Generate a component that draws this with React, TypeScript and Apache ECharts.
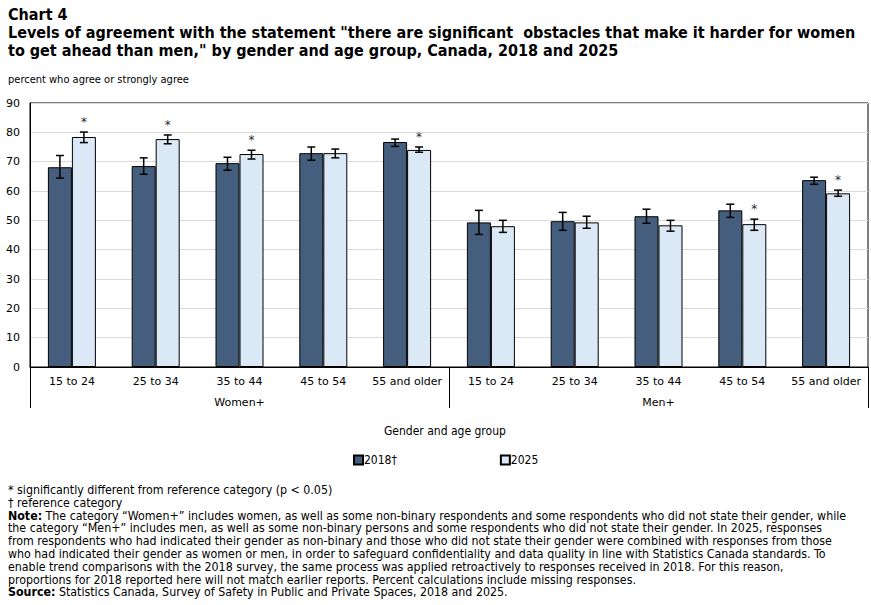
import React, { useEffect, useRef } from "react";
import * as echarts from "echarts";

const ageGroups = [
  "15 to 24", "25 to 34", "35 to 44", "45 to 54", "55 and older",
  "15 to 24", "25 to 34", "35 to 44", "45 to 54", "55 and older",
];
const genders = ["Women+", "Men+"];

const values2018 = [68.1, 68.5, 69.5, 72.9, 76.7, 49.3, 49.7, 51.4, 53.4, 63.7];
const low2018 = [64.4, 65.7, 67.1, 70.5, 75.2, 45.2, 46.6, 49.0, 51.0, 62.3];
const high2018 = [72.1, 71.3, 71.5, 75.0, 77.7, 53.4, 52.7, 53.8, 55.5, 64.7];

const values2025 = [78.4, 77.7, 72.6, 72.9, 74.0, 48.0, 49.3, 48.3, 48.7, 59.2];
const low2025 = [76.5, 76.1, 70.9, 71.3, 73.2, 45.9, 47.3, 46.3, 46.6, 58.2];
const high2025 = [80.1, 79.1, 73.9, 74.3, 75.0, 50.0, 51.4, 50.0, 50.4, 60.3];

// 1 = significantly different from the 2018 reference category
const significant2025 = [1, 1, 1, 0, 1, 0, 0, 0, 1, 1];
const significant2018 = [0, 0, 0, 0, 0, 0, 0, 0, 0, 0];

const seriesNames = ["2018\u2020", "2025"];
const colors = ["#455e7e", "#dbe8f6"];

const titleLines = [
  "Levels of agreement with the statement \"there are significant  obstacles that make it harder for women",
  "to get ahead than men,\" by gender and age group, Canada, 2018 and 2025",
];

const footLines = [
  "* significantly different from reference category (p < 0.05)",
  "\u2020 reference category",
  "{b|Note:} The category \u201cWomen+\u201d includes women, as well as some non-binary respondents and some respondents who did not state their gender, while",
  "the category \u201cMen+\u201d includes men, as well as some non-binary persons and some respondents who did not state their gender. In 2025, responses",
  "from respondents who had indicated their gender as non-binary and those who did not state their gender were combined with responses from those",
  "who had indicated their gender as women or men, in order to safeguard confidentiality and data quality in line with Statistics Canada standards. To",
  "enable trend comparisons with the 2018 survey, the same process was applied retroactively to responses received in 2018. For this reason,",
  "proportions for 2018 reported here will not match earlier reports. Percent calculations include missing responses.",
  "{b|Source:} Statistics Canada, Survey of Safety in Public and Private Spaces, 2018 and 2025.",
];

const BODY_FONT = "'DejaVu Sans Condensed', 'DejaVu Sans', sans-serif";
const AXIS_FONT = "'DejaVu Sans', Verdana, sans-serif";
const FOOT_SIZE = 12.3;
const FOOT_LINE = 12.8;

function errorSeries(
  name: string,
  low: number[],
  high: number[],
  sig: number[],
  offset: number
) {
  const data = low.map((l, i) => [i, l, high[i], sig[i]]);
  return {
    type: "custom",
    name: name + " CI",
    silent: true,
    z: 5,
    encode: { x: 0, y: [1, 2] },
    data,
    renderItem: (_params: any, api: any) => {
      const idx = api.value(0);
      const lo = api.coord([idx, api.value(1)]);
      const hi = api.coord([idx, api.value(2)]);
      const x = lo[0] + offset;
      const cap = 4;
      const style = { stroke: "#000", lineWidth: 1.5 };
      const children: any[] = [
        { type: "line", shape: { x1: x, y1: lo[1], x2: x, y2: hi[1] }, style },
        { type: "line", shape: { x1: x - cap, y1: lo[1], x2: x + cap, y2: lo[1] }, style },
        { type: "line", shape: { x1: x - cap, y1: hi[1], x2: x + cap, y2: hi[1] }, style },
      ];
      if (api.value(3) === 1) {
        children.push({
          type: "text",
          style: {
            text: "*",
            x,
            y: hi[1] - 4,
            align: "center",
            verticalAlign: "bottom",
            fontSize: 12,
            fontFamily: AXIS_FONT,
            fill: "#2a2a3a",
          },
        });
      }
      return { type: "group", children };
    },
  };
}

export default function App() {
  const ref = useRef<HTMLDivElement>(null);

  useEffect(() => {
    if (!ref.current) return;
    document.body.style.margin = "0";
    const chart = echarts.init(ref.current, undefined, { renderer: "svg" });

    const graphics: any[] = [
      {
        type: "text",
        left: 8,
        top: 6,
        style: { text: "Chart 4", fontSize: 16, fontWeight: "bold", fontFamily: BODY_FONT, fill: "#000" },
      },
      ...titleLines.map((t, i) => ({
        type: "text",
        left: 8,
        top: 24 + i * 18,
        style: { text: t, fontSize: 16, fontWeight: "bold", fontFamily: BODY_FONT, fill: "#000" },
      })),
      {
        type: "text",
        left: 8,
        top: 74,
        style: { text: "percent who agree or strongly agree", fontSize: 11, fontFamily: BODY_FONT, fill: "#000" },
      },
      {
        type: "text",
        left: 384,
        top: 425,
        style: { text: "Gender and age group", fontSize: 12, fontFamily: BODY_FONT, fill: "#000" },
      },
      ...footLines.map((t, i) => ({
        type: "text",
        left: 8,
        top: 484 + i * FOOT_LINE,
        style: {
          text: t,
          fontSize: FOOT_SIZE,
          fontFamily: BODY_FONT,
          fill: "#000",
          rich: {
            b: { fontWeight: "bold", fontSize: FOOT_SIZE, fontFamily: BODY_FONT, fill: "#000" },
          },
        },
      })),
    ];

    chart.setOption({
      animation: false,
      backgroundColor: "#fff",
      grid: {
        left: 30,
        right: 3,
        top: 103,
        bottom: 238,
        show: true,
        borderColor: "#000",
        borderWidth: 1,
        containLabel: false,
      },
      legend: {
        data: seriesNames,
        left: 348,
        top: 449,
        itemWidth: 9,
        itemHeight: 9,
        itemGap: 103,
        icon: "rect",
        textStyle: { fontSize: 12, fontFamily: BODY_FONT, color: "#000", padding: [0, 0, 0, -4] },
      },
      xAxis: [
        {
          type: "category",
          data: ageGroups,
          axisLine: { show: true, lineStyle: { color: "#000", width: 1 } },
          axisTick: { show: false },
          axisLabel: { interval: 0, margin: 9, fontSize: 11, fontFamily: AXIS_FONT, color: "#000" },
          splitLine: { show: false },
        },
        {
          type: "category",
          data: genders,
          position: "bottom",
          gridIndex: 0,
          axisLine: { show: false },
          axisTick: { show: true, length: 41, lineStyle: { color: "#000", width: 1 } },
          axisLabel: { interval: 0, margin: 30, fontSize: 11, fontFamily: AXIS_FONT, color: "#000" },
          splitLine: { show: false },
        },
      ],
      yAxis: {
        type: "value",
        min: 0,
        max: 90,
        interval: 10,
        axisLine: { show: true, lineStyle: { color: "#000", width: 1 } },
        axisTick: { show: false },
        axisLabel: { margin: 10, fontSize: 11, fontFamily: AXIS_FONT, color: "#000" },
        splitLine: { show: true, lineStyle: { color: "#d9d9d9", width: 1 } },
      },
      series: [
        {
          type: "bar",
          name: seriesNames[0],
          data: values2018,
          barWidth: 24,
          barGap: "0%",
          itemStyle: { color: colors[0], borderColor: "#000", borderWidth: 1 },
        },
        {
          type: "bar",
          name: seriesNames[1],
          data: values2025,
          barWidth: 24,
          barGap: "0%",
          itemStyle: { color: colors[1], borderColor: "#000", borderWidth: 1 },
        },
        errorSeries(seriesNames[0], low2018, high2018, significant2018, -12),
        errorSeries(seriesNames[1], low2025, high2025, significant2025, 12),
      ],
      graphic: graphics,
    });

    return () => chart.dispose();
  }, []);

  return <div ref={ref} style={{ width: 871, height: 605 }} />;
}
